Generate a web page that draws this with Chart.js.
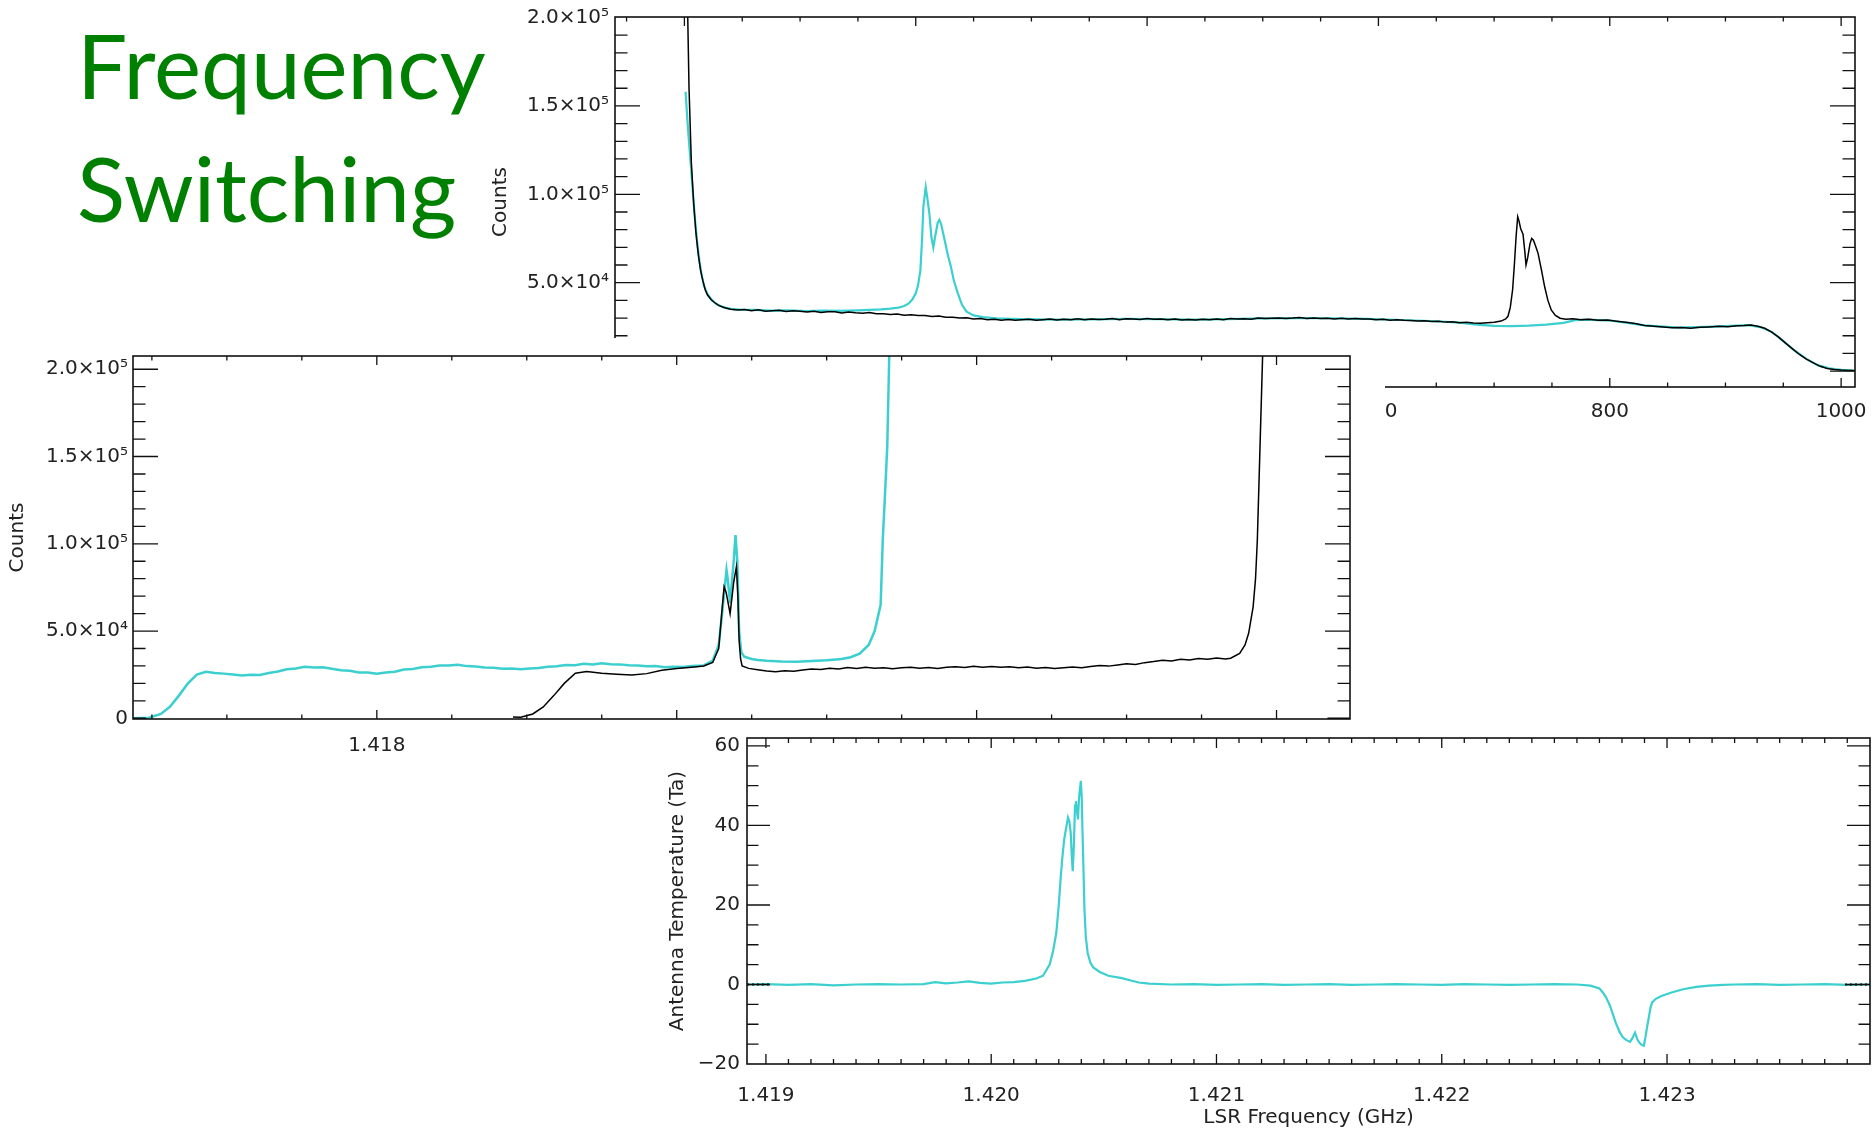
<!DOCTYPE html>
<html>
<head>
<meta charset="utf-8">
<title>Frequency Switching</title>
<script src="https://cdn.jsdelivr.net/npm/chart.js@4.4.1/dist/chart.umd.min.js"></script>
<style>
  html, body { margin: 0; padding: 0; background: #fff; }
  body { width: 1872px; height: 1135px; position: relative; overflow: hidden; }
  .layer { position: absolute; left: 0; top: 0; width: 1872px; height: 1135px; }
  .title {
    position: absolute; left: 77px; z-index: 5;
    font-family: 'Comic Sans MS', 'Lato', sans-serif;
    font-size: 89px; line-height: 89px; color: #008000; white-space: nowrap;
  }
</style>
</head>
<body>
<div class="title" style="top:20px">Frequency</div>
<div class="title" style="top:143px">Switching</div>
<div class="layer"><canvas id="topChart" width="1872" height="1135"></canvas></div>
<div class="layer"><canvas id="midChart" width="1872" height="1135"></canvas></div>
<div class="layer"><canvas id="lowChart" width="1872" height="1135"></canvas></div>

<script>
// ---- data ----

// top panel: raw spectra vs channel
const topBlackCh = [
  0, 2, 4, 6, 8, 10, 12, 14, 16, 18,
  20, 23, 26, 30, 35,
  40, 46, 52, 58, 64, 70, 76, 82, 88, 94,
  100, 106, 112, 118, 124, 130, 136, 142, 148, 154,
  160, 166, 172, 178, 184, 190, 196, 202, 208, 214,
  220, 226, 232, 238, 244, 250, 256, 262, 268, 274,
  280, 286, 292, 298, 304, 310, 316, 322, 328, 334,
  340, 346, 352, 358, 364, 370, 376, 382, 388, 394,
  400, 406, 412, 418, 424, 430, 436, 442, 448, 454,
  460, 466, 472, 478, 484, 490, 496, 502, 508, 514,
  520, 526, 532, 538, 544, 550, 556, 562, 568, 574,
  580, 586, 592, 598, 604, 610, 616, 622, 628, 634,
  640, 646, 652, 658, 664, 670, 676, 682, 688, 694,
  700, 706, 710, 712, 714, 716, 717.5, 719, 720.4, 721.5,
  723, 725, 726.5, 727.6, 729, 731, 732.5, 734, 736, 738,
  741, 743.7, 746.5, 749.4, 753, 757, 762, 768, 775, 782,
  790, 798, 806, 814, 822, 830, 838, 846, 854, 862,
  870, 878, 886, 894, 902, 910, 916, 922, 928, 934,
  940, 946, 952, 958, 964, 970, 976, 982, 988, 994,
  1000, 1006, 1012
];
const topBlackCounts = [
  400000, 232000, 160000, 118000, 95000, 78000, 66000, 57000, 51000, 46000,
  43000, 40500, 38800, 37000, 35800,
  35000, 34500, 34800, 34100, 34700, 33900, 34200, 34400, 33700, 34100,
  33800, 33400, 33900, 33200, 33600, 33500, 32900, 33400, 33000, 32700,
  33100, 32400, 32500, 32000, 32300, 31600, 31900, 31400, 31500, 30900,
  31100, 30500, 30400, 30000, 30200, 29500, 29800, 29100, 29300, 28800,
  29200, 28700, 29000, 29300, 28700, 29100, 29400, 28900, 29300, 29100,
  29600, 29000, 29500, 29200, 29300, 29700, 29100, 29600, 29400, 29200,
  29800, 29300, 29500, 29100, 29500, 28900, 29200, 28900, 29300, 29100,
  29400, 29000, 29700, 29400, 29600, 29300, 30000, 29700, 29900, 30100,
  29800, 30000, 30300, 29700, 30100, 29800, 29900, 29500, 29900, 29400,
  29700, 29400, 29500, 29100, 29300, 28800, 29000, 28700, 28600, 28300,
  28500, 28000, 28200, 27700, 27900, 27300, 27600, 27200, 27100, 27400,
  27600, 28300, 29500, 31000, 36000, 46000, 60000, 76000, 87300, 85000,
  80500, 77500, 68000, 60000, 64000, 72000, 75000, 74000, 70500, 66600,
  57000, 47700, 40000, 34600, 31500, 29900, 29300, 29600, 29000, 29300,
  28700, 28900, 28200, 27600, 26900, 25800, 25300, 24900, 24500, 24700,
  24300, 24800, 25000, 25300, 25100, 25700, 25800, 26100, 25400, 24200,
  22000, 19200, 15800, 12600, 9400, 6800, 4600, 2700, 1500, 900,
  600, 400, 300
];
const topCyanCh = [
  1, 3, 5, 7, 9, 11, 13, 15, 17, 20,
  24, 28, 34, 40, 50, 60, 75, 90, 105, 120,
  135, 150, 160, 170, 178, 185, 190, 194, 197, 200,
  202, 204, 205.5, 206.6, 208.6, 210, 211.8, 213.5, 215.2, 217,
  219, 220.4, 222, 225, 228, 230.4, 233, 236.4, 240, 244,
  250, 258, 270, 290, 320, 350, 380, 410, 440, 470,
  500, 530, 560, 590, 620, 650, 670, 685, 700, 715,
  730, 745, 760, 770, 780, 800, 830, 860, 890, 920,
  930, 940, 950, 960, 970, 980, 990, 1000, 1010
];
const topCyanCounts = [
  158000, 138000, 121000, 104000, 87000, 73000, 62000, 54000, 48000, 43500,
  40000, 37800, 36000, 35200, 34700, 34600, 34200, 34300, 34000, 34200,
  34100, 34400, 34600, 34900, 35300, 35900, 36800, 38300, 40500, 44000,
  48500, 57000, 75000, 93000, 104000, 98000, 89000, 76000, 70000, 77000,
  84000, 85500, 83000, 74000, 65000, 59000, 51000, 44000, 37500, 33600,
  31500, 30500, 29800, 29400, 29100, 29200, 29500, 29400, 29100, 29400,
  29800, 30000, 29900, 29500, 28900, 28200, 27400, 26300, 25600, 25400,
  25700, 26300, 27300, 28800, 29100, 28600, 25900, 24600, 25200, 26000,
  24900, 22200, 17000, 11500, 6900, 3200, 1600, 700, 350
];
const topXTicks = [0, 200, 400, 600, 800, 1000];
const topXLabels = ['0', '200', '400', '600', '800', '1000'];

// middle panel: both spectra vs sky frequency (GHz)
const midCyanFreq = [
  1.417187, 1.41724, 1.41728, 1.41731, 1.41734, 1.41737, 1.4174,
  1.41743, 1.41746, 1.41749, 1.41752, 1.41755, 1.41758, 1.41761, 1.41764, 1.41767, 1.4177,
  1.41773, 1.41776, 1.41779, 1.41782, 1.41785, 1.41788, 1.41791, 1.41794, 1.41797, 1.418,
  1.41803, 1.41806, 1.41809, 1.41812, 1.41815, 1.41818, 1.41821, 1.41824, 1.41827, 1.4183,
  1.41833, 1.41836, 1.41839, 1.41842, 1.41845, 1.41848, 1.41851, 1.41854, 1.41857, 1.4186,
  1.41863, 1.41866, 1.41869, 1.41872, 1.41875, 1.41878, 1.41881, 1.41884, 1.41887, 1.4189,
  1.41893, 1.41896, 1.41899, 1.41902, 1.41905, 1.41909,
  1.41912, 1.41914, 1.41915, 1.419166, 1.41917, 1.419178, 1.41919, 1.419196,
  1.419202, 1.419208, 1.419215, 1.419225, 1.41925, 1.41927, 1.4193, 1.41935, 1.4194, 1.41945,
  1.4195, 1.41955, 1.41958, 1.41961, 1.41964, 1.41966, 1.41968, 1.419687, 1.419695, 1.419702,
  1.419709, 1.41972
];
const midCyanCounts = [
  0, 300, 2500, 6600, 13000, 20000, 25000,
  26700, 26000, 25600, 25100, 24500, 25000, 24800, 26000, 26800, 28100,
  28600, 29500, 29100, 29300, 28400, 27600, 27200, 26300, 26200, 25600,
  26300, 26700, 27900, 28300, 29200, 29600, 30300, 30200, 30700, 29900,
  29700, 29100, 28900, 28400, 28500, 28100, 28600, 28800, 29600, 29800,
  30600, 30400, 31200, 30900, 31500, 31000, 30900, 30400, 30300, 29800,
  29900, 29300, 29600, 29400, 29900, 30300,
  33000, 42000, 58000, 85000, 80000, 66000, 90000, 105000,
  90000, 50000, 38000, 35300, 34000, 33400, 33000, 32600, 32400, 32800,
  33300, 34000, 35000, 37000, 42000, 50000, 65000, 102000, 130000, 155600,
  210000, 300000
];
const midBlackFreq = [
  1.417187, 1.41723, 1.41724,
  1.418454, 1.41848, 1.41852, 1.418555, 1.41859, 1.418625, 1.418662, 1.4187, 1.41875, 1.4188,
  1.41885, 1.4189, 1.41895, 1.419, 1.41905, 1.41909, 1.41912, 1.41914, 1.41915, 1.419158,
  1.419165, 1.419178, 1.41919, 1.419199, 1.419204, 1.419208, 1.419213, 1.419218,
  1.41924, 1.41927, 1.4193, 1.41933, 1.41936, 1.41939, 1.41942, 1.41945, 1.41948, 1.41951,
  1.41954, 1.41957, 1.4196, 1.41963, 1.41966, 1.41969, 1.41972, 1.41975, 1.41978, 1.41981,
  1.41984, 1.41987, 1.4199, 1.41993, 1.41996, 1.41999, 1.42002, 1.42005, 1.42008, 1.42011,
  1.42014, 1.42017, 1.4202, 1.42023, 1.42026, 1.42029, 1.42032, 1.42035, 1.42038, 1.42041,
  1.42044, 1.42047, 1.4205, 1.42053, 1.42056, 1.42059, 1.42062, 1.42065, 1.42068, 1.42071,
  1.42074, 1.42077, 1.4208, 1.42083, 1.420847,
  1.420877, 1.420895, 1.420907, 1.420922, 1.42093, 1.420936, 1.420944,
  1.420954, 1.42096, 1.421, 1.42117, 1.421245
];
const midBlackCounts = [
  0, 0, null,
  800, 600, 2500, 6500, 13000, 20000, 25800, 26800, 25800, 25300,
  24800, 25600, 27500, 28600, 29300, 30000, 32000, 40000, 60000, 75400,
  72000, 60000, 78000, 86800, 70000, 44800, 34000, 30000,
  28600, 27800, 27100, 26700, 27300, 27000, 27700, 28200, 27900, 28700,
  28300, 29100, 28600, 29200, 28700, 29000, 28400, 28900, 29300, 28700,
  29100, 28500, 29200, 29600, 29100, 29800, 29300, 29700, 29200, 29600,
  29000, 29400, 28700, 29100, 28500, 28900, 29400, 29000, 29700, 30200,
  29900, 30600, 31200, 30800, 31900, 32500, 33300, 32900, 33800, 33400,
  34200, 33800, 34500, 34000, 34400,
  37200, 42000, 48700, 63900, 80000, 102000, 149800,
  210000, 300000, null, 0, 0
];
const midXTicks = [1.418, 1.419, 1.420, 1.421];
const midXLabels = ['1.418', '1.419', '1.420', '1.421'];
const countTicks = [0, 50000, 100000, 150000, 200000];
const countLabels = ['0', '5.0×10⁴', '1.0×10⁵', '1.5×10⁵', '2.0×10⁵'];

// bottom panel: frequency-switched spectrum vs LSR frequency (GHz)
const lowFreq = [
  1.418916, 1.419, 1.4191, 1.4192, 1.4193, 1.4194, 1.4195, 1.4196, 1.4197, 1.41975,
  1.4198, 1.41985, 1.4199, 1.41995, 1.42, 1.42005, 1.4201, 1.42015, 1.4202, 1.42023,
  1.42026, 1.420275, 1.420289, 1.4203, 1.420308, 1.420316, 1.420324, 1.420333, 1.420341, 1.420347,
  1.420353, 1.420358, 1.420362, 1.420367, 1.420372, 1.420376, 1.42038, 1.420385, 1.42039, 1.420398,
  1.420402, 1.420405, 1.42041, 1.420414, 1.42042, 1.420428, 1.42044, 1.420453, 1.42048, 1.42052,
  1.42058, 1.42062, 1.420655, 1.4207, 1.4208, 1.4209, 1.421, 1.4211, 1.4212, 1.4213,
  1.4214, 1.4215, 1.4216, 1.4217, 1.4218, 1.4219, 1.422, 1.4221, 1.4222, 1.4223,
  1.4224, 1.4225, 1.4226, 1.42266, 1.4227, 1.422715, 1.42273, 1.422747, 1.42276, 1.422772,
  1.42279, 1.422804, 1.42282, 1.422836, 1.422846, 1.422858, 1.422868, 1.422877, 1.422887, 1.422897,
  1.422905, 1.422912, 1.422918, 1.422926, 1.422934, 1.42295, 1.422975, 1.42302, 1.423072, 1.42313,
  1.423186, 1.42325, 1.4233, 1.4234, 1.4235, 1.4236, 1.4237, 1.4238, 1.4239
];
const lowTa = [
  0, 0.1, -0.1, 0.1, -0.2, 0, 0.1, 0, 0.1, 0.6,
  0.3, 0.5, 0.8, 0.4, 0.2, 0.5, 0.6, 0.9, 1.5, 2.2,
  5.1, 8.5, 13, 20, 26.5, 32, 36.5, 39.5, 42, 41,
  38.2, 32, 28.5, 35, 45, 46.1, 44, 41.5, 47, 51.2,
  47, 39, 28, 18.9, 12, 8, 5.5, 4.3, 3.2, 2.2,
  1.6, 1.0, 0.5, 0.2, 0, 0.1, -0.1, 0, 0.1, -0.1,
  0, 0.1, -0.1, 0, 0.1, 0, -0.1, 0.1, 0, -0.1,
  0, 0.1, 0, -0.3, -1.0, -2, -3.3, -5.4, -7.5, -9.6,
  -12, -13.3, -14, -14.4, -13.5, -12.1, -13.8, -14.6, -15.2, -15.4,
  -13, -10.5, -8.7, -6, -4.5, -3.6, -2.9, -2.0, -1.2, -0.6,
  -0.3, -0.1, 0, 0.1, -0.1, 0, 0.1, -0.1, 0
];
const lowEdgeFreq = [1.418916, 1.41902, 1.41903, 1.42379, 1.4239];
const lowEdgeTa = [0, 0, null, 0, 0];
const lowXTicks = [1.419, 1.420, 1.421, 1.422, 1.423];
const lowXLabels = ['1.419', '1.420', '1.421', '1.422', '1.423'];
const lowYTicks = [-20, 0, 20, 40, 60];
const lowYLabels = ['\u221220', '0', '20', '40', '60'];

// ---- drawing ----
const INK = '#222';
const CYAN = '#3ccfcf';

Chart.defaults.font.family = "'DejaVu Sans', 'Liberation Sans', sans-serif";
Chart.defaults.font.size = 20;
Chart.defaults.color = INK;
Chart.defaults.animation = false;

function pairs(xs, ys) {
  return xs.map((x, i) => ({ x: x, y: ys[i] }));
}

function line(xs, ys, color, width, dash) {
  return {
    data: pairs(xs, ys),
    borderColor: color,
    borderWidth: width,
    borderDash: dash || [],
    pointRadius: 0,
    tension: 0,
    fill: false,
    spanGaps: false
  };
}

// white sheet behind a panel so it hides whatever lies under it
const paperPlugin = {
  id: 'paper',
  beforeDraw(chart, args, opts) {
    if (!opts.rect) return;
    const [x, y, w, h] = opts.rect;
    chart.ctx.save();
    chart.ctx.fillStyle = '#fff';
    chart.ctx.fillRect(x, y, w, h);
    chart.ctx.restore();
  }
};

// IDL style box: frame on four sides with inward major/minor ticks
const boxAxesPlugin = {
  id: 'boxAxes',
  afterDatasetsDraw(chart, args, o) {
    const { ctx, chartArea: a } = chart;
    const xs = chart.scales.x, ys = chart.scales.y;
    ctx.save();
    ctx.strokeStyle = '#111';
    ctx.lineWidth = 1.3;
    ctx.beginPath();
    const xMark = (v, len) => {
      const p = xs.getPixelForValue(v);
      if (p <= a.left + 1 || p >= a.right - 1) return;
      ctx.moveTo(p, a.bottom); ctx.lineTo(p, a.bottom - len);
      ctx.moveTo(p, a.top); ctx.lineTo(p, a.top + len);
    };
    const yMark = (v, len) => {
      const p = ys.getPixelForValue(v);
      if (p <= a.top + 1 || p >= a.bottom - 1) return;
      ctx.moveTo(a.left, p); ctx.lineTo(a.left + len, p);
      ctx.moveTo(a.right, p); ctx.lineTo(a.right - len, p);
    };
    for (let k = Math.ceil(xs.min / o.xStep - 1e-6); k * o.xStep <= xs.max; k++) xMark(k * o.xStep, o.xLen / 2);
    for (let k = Math.ceil(ys.min / o.yStep - 1e-6); k * o.yStep <= ys.max; k++) yMark(k * o.yStep, o.yLen / 2);
    o.xMajor.forEach(v => xMark(v, o.xLen));
    o.yMajor.forEach(v => yMark(v, o.yLen));
    ctx.stroke();
    ctx.lineWidth = 1.6;
    ctx.strokeRect(a.left, a.top, a.right - a.left, a.bottom - a.top);
    ctx.restore();
  }
};

function fixSize(size, horizontal) {
  return function (scale) {
    if (horizontal) scale.height = size; else scale.width = size;
    scale.paddingLeft = scale.paddingRight = scale.paddingTop = scale.paddingBottom = 0;
  };
}

function axis(opts) {
  const cfg = {
    type: 'linear',
    min: opts.min,
    max: opts.max,
    grid: { display: false, drawTicks: false },
    border: { display: false },
    afterBuildTicks: s => { s.ticks = opts.ticks.map(v => ({ value: v })); },
    afterFit: fixSize(opts.size, opts.horizontal),
    ticks: {
      padding: opts.pad,
      autoSkip: false,
      maxRotation: 0,
      minRotation: 0,
      callback: (v, i) => opts.labels[i]
    }
  };
  if (opts.title) {
    cfg.title = { display: true, text: opts.title, color: INK, font: { size: 20 }, padding: opts.titlePad };
  }
  return cfg;
}

function makeChart(id, datasets, scales, padding, paper, box) {
  return new Chart(document.getElementById(id), {
    type: 'line',
    data: { datasets: datasets },
    options: {
      responsive: false,
      layout: { padding: padding },
      scales: scales,
      plugins: {
        legend: { display: false },
        tooltip: { enabled: false },
        paper: { rect: paper },
        boxAxes: box
      }
    },
    plugins: [paperPlugin, boxAxesPlugin]
  });
}

// top: raw spectra against channel number
makeChart('topChart',
  [line(topBlackCh, topBlackCounts, '#000', 1.5), line(topCyanCh, topCyanCounts, CYAN, 2.2)],
  {
    x: axis({ min: -60, max: 1012, ticks: topXTicks, labels: topXLabels, size: 48, horizontal: true, pad: 13 }),
    y: axis({ min: -9000, max: 200300, ticks: countTicks, labels: countLabels, size: 135, horizontal: false, pad: 6,
              title: 'Counts', titlePad: { top: 9, bottom: 0 } })
  },
  { left: 480, top: 17, right: 17, bottom: 700 },
  null,
  { xStep: 50, yStep: 10000, xMajor: topXTicks, yMajor: countTicks, xLen: 9, yLen: 25 }
);

// middle: both spectra against sky frequency
makeChart('midChart',
  [line(midBlackFreq, midBlackCounts, '#000', 1.5), line(midCyanFreq, midCyanCounts, CYAN, 2.5)],
  {
    x: axis({ min: 1.417187, max: 1.421245, ticks: midXTicks, labels: midXLabels, size: 48, horizontal: true, pad: 15 }),
    y: axis({ min: -400, max: 207600, ticks: countTicks, labels: countLabels, size: 133, horizontal: false, pad: 5,
              title: 'Counts', titlePad: { top: 6, bottom: 0 } })
  },
  { left: 0, top: 356, right: 522, bottom: 368 },
  [0, 338, 1385, 797],
  { xStep: 0.00025, yStep: 10000, xMajor: midXTicks, yMajor: countTicks, xLen: 9, yLen: 25 }
);

// bottom: frequency-switched result in antenna temperature
makeChart('lowChart',
  [line(lowEdgeFreq, lowEdgeTa, '#000', 2, [2, 3]), line(lowFreq, lowTa, CYAN, 2.2)],
  {
    x: axis({ min: 1.418916, max: 1.423901, ticks: lowXTicks, labels: lowXLabels, size: 71, horizontal: true, pad: 20,
              title: 'LSR Frequency (GHz)', titlePad: { top: 0, bottom: 5 } }),
    y: axis({ min: -20, max: 62, ticks: lowYTicks, labels: lowYLabels, size: 97, horizontal: false, pad: 7,
              title: 'Antenna Temperature (Ta)', titlePad: { top: 16, bottom: 0 } })
  },
  { left: 650, top: 738, right: 2, bottom: 0 },
  [640, 725, 1232, 410],
  { xStep: 0.0001, yStep: 5, xMajor: lowXTicks, yMajor: lowYTicks, xLen: 10, yLen: 23 }
);
</script>
</body>
</html>
